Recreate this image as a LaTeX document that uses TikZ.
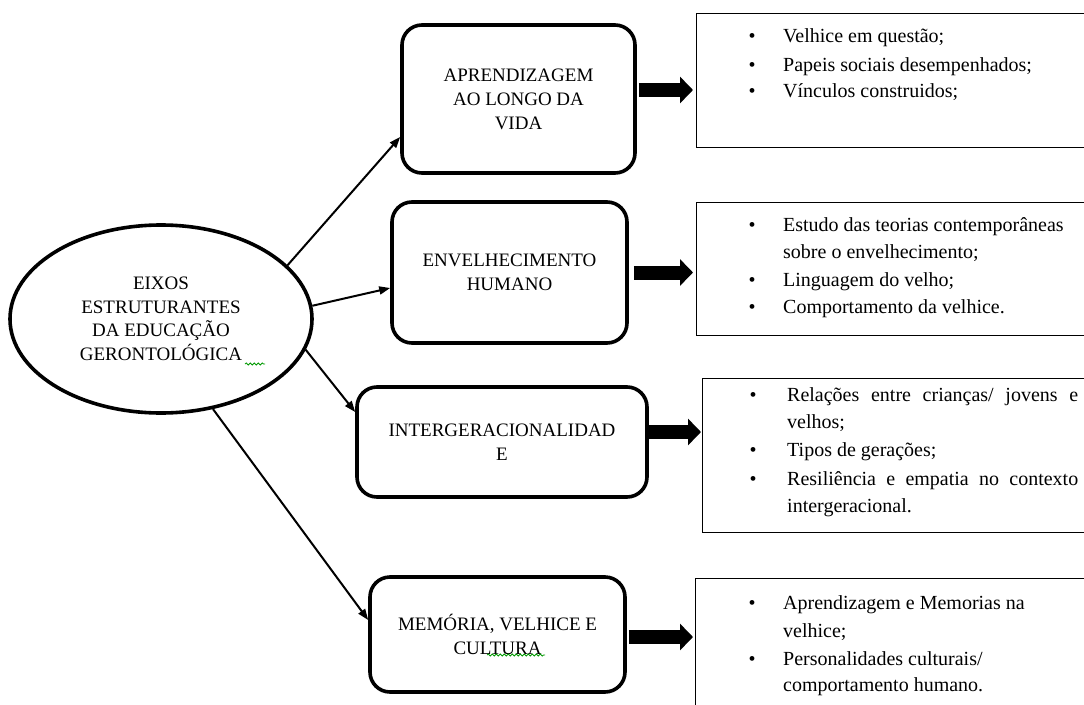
\documentclass[tikz,border=0pt]{standalone}
\usepackage{fontspec}
\setmainfont{Liberation Serif}
\usetikzlibrary{arrows.meta,shapes.geometric,calc,decorations.pathmorphing}
\newcommand\bul{\makebox[34.5pt][l]{\textbullet}}
\newcommand\bulw{\makebox[37.5pt][l]{\textbullet}}
\begin{document}
\begin{tikzpicture}[x=1pt,y=-1pt,
  midbox/.style={draw,line width=3.6pt,rounded corners=20pt,align=center,font=\fontsize{19}{24}\selectfont,inner sep=0pt},
  sidebox/.style={draw,line width=1.3pt,anchor=north west,inner sep=0pt},
  itemline/.style={anchor=base west,inner sep=0pt,font=\fontsize{20}{24}\selectfont},
  spoke/.style={line width=2pt,-{Triangle[length=11pt,width=8pt]}},
  blockarrow/.style={line width=14pt,-{Triangle[length=13pt,width=26pt]}},
  squig/.style={draw=green!60!black,line width=0.8pt,decorate,decoration={snake,amplitude=1pt,segment length=4pt}}
]
\useasboundingbox (0,0) rectangle (1084,704);
\clip (0,0) rectangle (1084,704);
\fill[white] (0,0) rectangle (1084,704);

% central ellipse
\node[draw,ellipse,line width=3.6pt,minimum width=302pt,minimum height=188pt,inner sep=0pt,align=center,font=\fontsize{19}{23.5}\selectfont] (E) at (161,319)
  {EIXOS\\ESTRUTURANTES\\DA EDUCAÇÃO\\GERONTOLÓGICA};

% middle boxes
\node[midbox,minimum width=233pt,minimum height=148pt] (A) at (518.5,99) {APRENDIZAGEM\\AO LONGO DA\\VIDA};
\node[midbox,minimum width=235pt,minimum height=141pt] (B) at (509.5,272.5) {ENVELHECIMENTO\\HUMANO};
\node[midbox,minimum width=290pt,minimum height=110pt] (C) at (502,442) {INTERGERACIONALIDAD\\E};
\node[midbox,minimum width=255pt,minimum height=115pt] (D) at (497.5,634.5) {MEMÓRIA, VELHICE E\\CULTURA};

% right boxes
\node[sidebox,minimum width=420pt,minimum height=134pt] (R1) at (696,13) {};
\node[sidebox,minimum width=420pt,minimum height=133pt] (R2) at (696,202) {};
\node[sidebox,minimum width=420pt,minimum height=154pt] (R3) at (702,378) {};
\node[sidebox,minimum width=420pt,minimum height=150pt] (R4) at (695,578) {};

% right box texts
\node[itemline] (r1a) at (748.5,42.7) {\bul Velhice em questão;};
\node[itemline] (r1b) at (748.5,71) {\bul Papeis sociais desempenhados;};
\node[itemline] (r1c) at (748.5,97.5) {\bul Vínculos construidos;};

\node[itemline] (r2a) at (748.5,231.7) {\bul Estudo das teorias contemporâneas};
\node[itemline] (r2b) at (783,258.3) {sobre o envelhecimento;};
\node[itemline] (r2c) at (748.5,286.7) {\bul Linguagem do velho;};
\node[itemline] (r2d) at (748.5,313.3) {\bul Comportamento da velhice.};

\node[itemline] (r3a) at (749.5,401.7) {\bulw\makebox[291pt][s]{Relações entre crianças/ jovens e}};
\node[itemline] (r3b) at (787,428.5) {velhos;};
\node[itemline] (r3c) at (749.5,456) {\bulw Tipos de gerações;};
\node[itemline] (r3d) at (749.5,485) {\bulw\makebox[291pt][s]{Resiliência e empatia no contexto}};
\node[itemline] (r3e) at (787,512.7) {intergeracional.};

\node[itemline] (r4a) at (748.5,609) {\bul Aprendizagem e Memorias na};
\node[itemline] (r4b) at (783,637) {velhice;};
\node[itemline] (r4c) at (748.5,665) {\bul Personalidades culturais/};
\node[itemline] (r4d) at (783,691.7) {comportamento humano.};

% spokes from ellipse
\draw[spoke] (E.23) -- ($(A.west)+(0,38)$);
\draw[spoke] (E.5) -- ($(B.west)+(0,15.5)$);
\draw[spoke] (E.-12) -- ($(C.west)+(0,-30)$);
\draw[spoke] (E.-60.5) -- ($(D.west)+(0,-14.5)$);

% block arrows
\coordinate (a1s) at ($(A.east)+(2,-9)$);
\coordinate (a1e) at ($(a1s -| R1.west)+(-3,0)$);
\coordinate (a2s) at ($(B.east)+(5,0)$);
\coordinate (a2e) at ($(a2s -| R2.west)+(-3,0)$);
\coordinate (a3s) at ($(C.east)+(-1,-10)$);
\coordinate (a3e) at ($(a3s -| R3.west)+(-1,0)$);
\coordinate (a4s) at ($(D.east)+(2,2.5)$);
\coordinate (a4e) at ($(a4s -| R4.west)+(-2,0)$);
\draw[blockarrow] (a1s) -- (a1e);
\draw[blockarrow] (a2s) -- (a2e);
\draw[blockarrow] (a3s) -- (a3e);
\draw[blockarrow] (a4s) -- (a4e);

% spell-check squiggles
\coordinate (sq1a) at (245,364);
\coordinate (sq1b) at (265,364);
\coordinate (sq2a) at (487,655);
\coordinate (sq2b) at (545,655);
\draw[squig] (sq1a) -- (sq1b);
\draw[squig] (sq2a) -- (sq2b);
\end{tikzpicture}
\end{document}
